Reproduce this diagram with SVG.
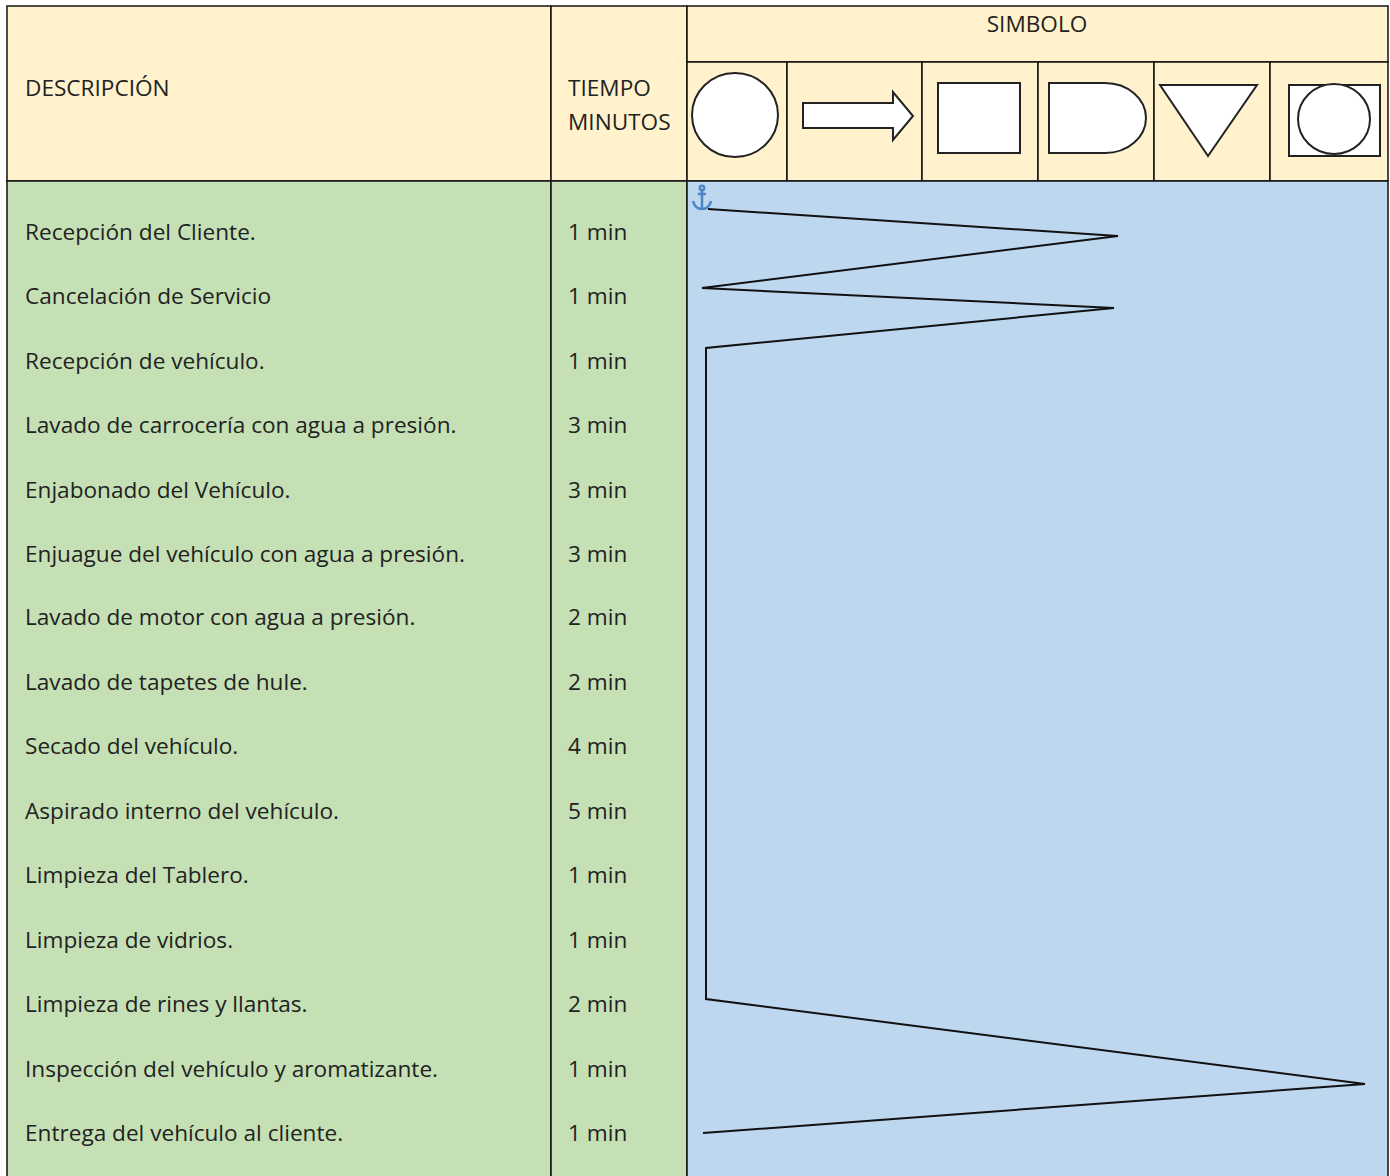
<svg xmlns="http://www.w3.org/2000/svg" width="1390" height="1176" viewBox="0 0 1390 1176">
<style>
.t{font-family:"Open Sans","Liberation Sans",sans-serif;font-size:22.6px;fill:#222}
.h{fill:#FFF2CC;stroke:#111;stroke-width:1.5}
.g{fill:#C5E0B4;stroke:#111;stroke-width:1.5}
.b{fill:#BDD7EE;stroke:#111;stroke-width:1.5}
.s{fill:#fff;stroke:#222;stroke-width:2}
.ln{fill:none;stroke:#111;stroke-width:2}
</style>
<rect width="1390" height="1176" fill="#fff"/>
<g id="header">
<rect class="h" x="7" y="6" width="544" height="175"/>
<rect class="h" x="551" y="6" width="136" height="175"/>
<rect class="h" x="687" y="6" width="701" height="56"/>
<rect class="h" x="687" y="62" width="100" height="119"/>
<rect class="h" x="787" y="62" width="135" height="119"/>
<rect class="h" x="922" y="62" width="116" height="119"/>
<rect class="h" x="1038" y="62" width="116" height="119"/>
<rect class="h" x="1154" y="62" width="116" height="119"/>
<rect class="h" x="1270" y="62" width="118" height="119"/>
<text class="t" x="25" y="96">DESCRIPCIÓN</text>
<text class="t" x="568" y="96">TIEMPO</text>
<text class="t" x="568" y="130">MINUTOS</text>
<text class="t" x="1037" y="32" text-anchor="middle">SIMBOLO</text>
</g>
<g id="symbols">
<ellipse id="sym-operacion" class="s" cx="735" cy="115" rx="43" ry="42"/>
<polygon id="sym-transporte" class="s" points="803,103 893,103 893,92 913,116 893,140 893,128 803,128"/>
<rect id="sym-inspeccion" class="s" x="938" y="83" width="82" height="70"/>
<path id="sym-demora" class="s" d="M1049,83 H1105 A41,35 0 0 1 1105,153 H1049 Z"/>
<polygon id="sym-almacen" class="s" points="1160,85 1257,85 1208,156"/>
<g id="sym-combinada"><rect class="s" x="1289" y="85" width="91" height="71"/><ellipse class="s" cx="1334" cy="119" rx="36" ry="35"/></g>
</g>
<g id="body">
<rect class="g" x="7" y="181" width="544" height="1000"/>
<rect class="g" x="551" y="181" width="136" height="1000"/>
<rect class="b" x="687" y="181" width="701" height="1000"/>
</g>
<g id="rows">
<text class="t" x="25" y="240">Recepción del Cliente.</text><text class="t" x="568" y="240">1 min</text>
<text class="t" x="25" y="304">Cancelación de Servicio</text><text class="t" x="568" y="304">1 min</text>
<text class="t" x="25" y="369">Recepción de vehículo.</text><text class="t" x="568" y="369">1 min</text>
<text class="t" x="25" y="433">Lavado de carrocería con agua a presión.</text><text class="t" x="568" y="433">3 min</text>
<text class="t" x="25" y="498">Enjabonado del Vehículo.</text><text class="t" x="568" y="498">3 min</text>
<text class="t" x="25" y="562">Enjuague del vehículo con agua a presión.</text><text class="t" x="568" y="562">3 min</text>
<text class="t" x="25" y="625">Lavado de motor con agua a presión.</text><text class="t" x="568" y="625">2 min</text>
<text class="t" x="25" y="690">Lavado de tapetes de hule.</text><text class="t" x="568" y="690">2 min</text>
<text class="t" x="25" y="754">Secado del vehículo.</text><text class="t" x="568" y="754">4 min</text>
<text class="t" x="25" y="819">Aspirado interno del vehículo.</text><text class="t" x="568" y="819">5 min</text>
<text class="t" x="25" y="883">Limpieza del Tablero.</text><text class="t" x="568" y="883">1 min</text>
<text class="t" x="25" y="948">Limpieza de vidrios.</text><text class="t" x="568" y="948">1 min</text>
<text class="t" x="25" y="1012">Limpieza de rines y llantas.</text><text class="t" x="568" y="1012">2 min</text>
<text class="t" x="25" y="1077">Inspección del vehículo y aromatizante.</text><text class="t" x="568" y="1077">1 min</text>
<text class="t" x="25" y="1141">Entrega del vehículo al cliente.</text><text class="t" x="568" y="1141">1 min</text>
</g>
<g id="anchor" fill="none" stroke="#4A86C5" stroke-width="2.5">
<circle cx="702" cy="188" r="2.2"/>
<line x1="702" y1="190.5" x2="702" y2="209"/>
<path d="M693,201 Q695,209 702,209 Q709,209 711,201"/>
<line x1="698" y1="194" x2="706" y2="194"/>
</g>
<g id="connectors">
<polyline class="ln" points="708,209 1118,236 702,288 1114,308 706,348 706,999 1365,1084 703,1133"/>
</g>
</svg>
